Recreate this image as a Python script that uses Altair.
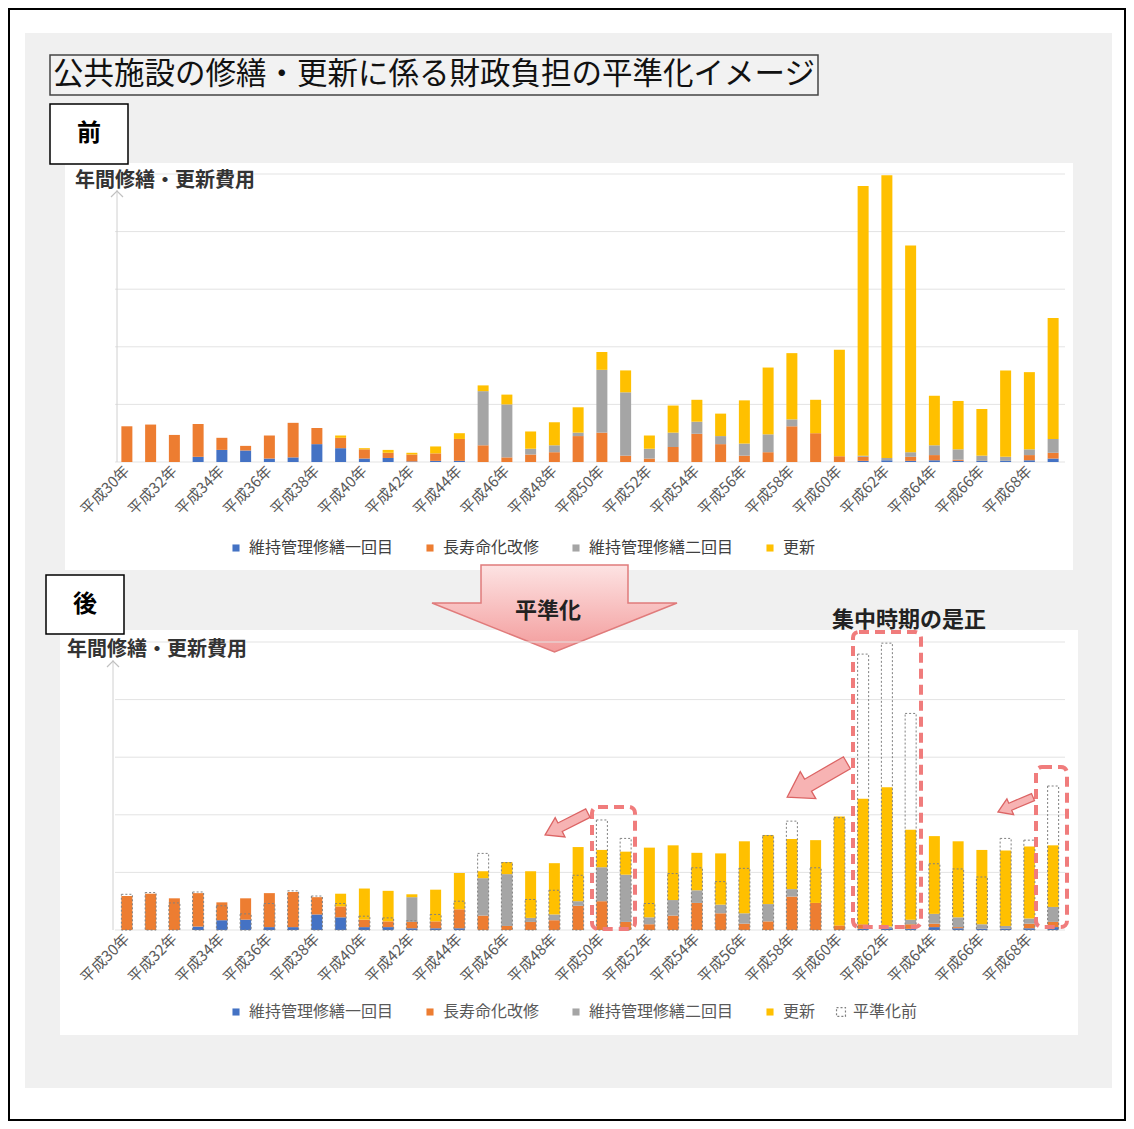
import altair as alt
import pandas as pd

# ---------------- data ----------------
years = [f"平成{n}年" for n in range(30, 70)]
tick_labels = years[::2]
categories = ["維持管理修繕一回目", "長寿命化改修", "維持管理修繕二回目", "更新"]
cat_colors = ["#4472C4", "#ED7D31", "#A5A5A5", "#FFC000"]
grid_values = [0, 1, 2, 3, 4, 5]

# 平準化前 (before)
before_blue = [0, 0, 0, 0.09, 0.21, 0.20, 0.06, 0.08, 0.31, 0.24,
               0.06, 0.07, 0.01, 0.02, 0.02, 0, 0, 0, 0, 0,
               0, 0, 0, 0, 0, 0, 0, 0, 0, 0,
               0, 0.02, 0.03, 0.02, 0.03, 0.02, 0.02, 0.02, 0.03, 0.06]
before_orange = [0.62, 0.65, 0.47, 0.57, 0.21, 0.08, 0.40, 0.60, 0.28, 0.18,
                 0.16, 0.09, 0.12, 0.13, 0.38, 0.29, 0.08, 0.13, 0.17, 0.45,
                 0.51, 0.11, 0.06, 0.26, 0.49, 0.31, 0.11, 0.17, 0.62, 0.50,
                 0.10, 0.07, 0, 0.07, 0.09, 0.02, 0, 0, 0.09, 0.10]
before_gray = [0, 0, 0, 0, 0, 0, 0, 0, 0, 0,
               0, 0, 0, 0, 0, 0.94, 0.92, 0.10, 0.12, 0.06,
               1.09, 1.10, 0.17, 0.25, 0.21, 0.14, 0.21, 0.31, 0.12, 0,
               0, 0.02, 0.04, 0.08, 0.17, 0.18, 0.09, 0.07, 0.10, 0.24]
before_yellow = [0, 0, 0, 0, 0, 0, 0, 0, 0, 0.04,
                 0.02, 0.05, 0.03, 0.12, 0.10, 0.10, 0.17, 0.30, 0.40, 0.44,
                 0.31, 0.38, 0.23, 0.47, 0.38, 0.39, 0.75, 1.16, 1.15, 0.58,
                 1.85, 4.68, 4.91, 3.59, 0.86, 0.84, 0.81, 1.50, 1.34, 2.10]

# 平準化後 (after)
after_blue = [0, 0, 0, 0.06, 0.17, 0.18, 0.05, 0.05, 0.27, 0.22,
              0.05, 0.05, 0.03, 0.03, 0.03, 0, 0, 0, 0, 0,
              0, 0, 0, 0, 0, 0, 0, 0, 0, 0,
              0, 0.02, 0.03, 0.02, 0.05, 0.03, 0.02, 0.02, 0.03, 0.05]
after_orange = [0.59, 0.63, 0.55, 0.58, 0.31, 0.37, 0.59, 0.61, 0.30, 0.19,
                0.13, 0.10, 0.11, 0.12, 0.33, 0.25, 0.07, 0.14, 0.17, 0.42,
                0.50, 0.14, 0.10, 0.25, 0.47, 0.29, 0.11, 0.15, 0.58, 0.47,
                0.08, 0.08, 0, 0.08, 0.06, 0.02, 0, 0, 0.08, 0.09]
after_gray = [0, 0, 0, 0, 0, 0, 0, 0, 0, 0,
              0, 0, 0.43, 0, 0, 0.65, 0.90, 0.07, 0.10, 0.08,
              0.59, 0.82, 0.12, 0.27, 0.22, 0.15, 0.18, 0.30, 0.13, 0,
              0, 0, 0.03, 0.08, 0.17, 0.17, 0.08, 0.05, 0.09, 0.26]
after_yellow = [0, 0, 0, 0, 0, 0, 0, 0, 0, 0.22,
                0.54, 0.53, 0.05, 0.55, 0.63, 0.12, 0.21, 0.81, 0.89, 0.94,
                0.30, 0.40, 1.21, 0.95, 0.65, 0.89, 1.25, 1.20, 0.87, 1.09,
                1.89, 2.18, 2.42, 1.56, 1.35, 1.32, 1.29, 1.31, 1.25, 1.07]

outline_label = "平準化前"
main_title = "公共施設の修繕・更新に係る財政負担の平準化イメージ"
y_title = "年間修繕・更新費用"


def stack_df(series):
    rows = []
    for i, yr in enumerate(years):
        for k, cat in enumerate(categories):
            rows.append({"year": yr, "cat": cat, "ord": k, "value": series[k][i]})
    return pd.DataFrame(rows)


before_df = stack_df([before_blue, before_orange, before_gray, before_yellow])
after_df = stack_df([after_blue, after_orange, after_gray, after_yellow])
before_total = [round(a + b + c + d, 2) for a, b, c, d in
                zip(before_blue, before_orange, before_gray, before_yellow)]
outline_df = pd.DataFrame({"year": years, "total": before_total,
                           "lab": [outline_label] * len(years)})

# ---------------- helpers ----------------
W, H = 950, 288
ONE = pd.DataFrame({"d": [0]})
FONT = "Noto Sans CJK JP"


def rect(x, x2, y, y2, **kw):
    return alt.Chart(ONE).mark_rect(**kw).encode(
        x=alt.value(x), x2=alt.value(x2), y=alt.value(y), y2=alt.value(y2))


def text(s, x, y, **kw):
    return alt.Chart(ONE).mark_text(text=s, **kw).encode(x=alt.value(x), y=alt.value(y))


def symbol(shape, x, y, size, angle=0, **kw):
    return alt.Chart(ONE).mark_point(shape=shape, size=size, angle=angle, opacity=1, **kw).encode(
        x=alt.value(x), y=alt.value(y))


x_axis = alt.Axis(values=tick_labels, labelAngle=-45, labelAlign="right", labelBaseline="middle",
                  labelFontSize=15, labelColor="#595959", labelPadding=6, ticks=False,
                  domain=False, grid=False, title=None, zindex=1, labelOverlap=False)
x_scale = alt.Scale(domain=years, paddingInner=0.5, paddingOuter=0.25)
y_scale = alt.Scale(domain=[0, 5], nice=False, zero=True)


def grid_layer():
    return alt.Chart(pd.DataFrame({"g": grid_values})).mark_rule(color="#e3e3e3", strokeWidth=1).encode(
        y=alt.Y("g:Q", scale=y_scale, axis=None), x=alt.value(0), x2=alt.value(W))


def axis_arrow(xpos, ytop):
    line = alt.Chart(ONE).mark_rule(color="#d0d0d0", strokeWidth=1).encode(
        x=alt.value(xpos), y=alt.value(ytop), y2=alt.value(H))
    head = symbol("M-1,0.5L0,-0.5L1,0.5", xpos, ytop + 4, 144, filled=False,
                  stroke="#c0c0c0", strokeWidth=1.2)
    return [line, head]


def bars(df, legend_y, label_color):
    return alt.Chart(df).mark_bar(size=11).encode(
        x=alt.X("year:N", scale=x_scale, axis=x_axis),
        y=alt.Y("value:Q", stack="zero", scale=y_scale, axis=None),
        color=alt.Color("cat:N", scale=alt.Scale(domain=categories, range=cat_colors),
                        legend=alt.Legend(orient="none", legendX=113, legendY=legend_y,
                                          direction="horizontal", title=None, labelFontSize=16,
                                          labelColor=label_color, symbolType="square",
                                          symbolSize=50, labelOffset=5, columnPadding=28,
                                          labelFont=FONT)),
        order=alt.Order("ord:Q", sort="ascending"),
    )


left_arrow = "M-1,0L-0.3,-0.45L-0.3,-0.2L1,-0.2L1,0.2L-0.3,0.2L-0.3,0.45Z"
down_arrow = "M-0.6,-0.355L0.6,-0.355L0.6,-0.045L1,-0.045L0,0.355L-1,-0.045L-0.6,-0.045Z"
pink_grad = alt.Gradient(gradient="linear",
                         stops=[alt.GradientStop(color="#fde3e3", offset=0),
                                alt.GradientStop(color="#f39b9b", offset=1)],
                         x1=0, x2=0, y1=0, y2=1)

# ---------------- top chart (前) ----------------
top_layers = [
    rect(-106, 1010, -165, 946, fill="white", stroke="black", strokeWidth=2),
    rect(-90, 997, -141, 914, fill="#f0f0f0"),
    rect(-65, 703, -119, -79, fill="#f2f2f2", stroke="#444444", strokeWidth=1.5),
    text(main_title, -62, -99, align="left", baseline="middle", fontSize=30.5, color="#111111"),
    rect(-50, 958, -11, 396, fill="white"),
    rect(-65, 13, -70, -10, fill="white", stroke="black", strokeWidth=1.5),
    text("前", -26, -40, align="center", baseline="middle", fontSize=24, fontWeight="bold", color="black"),
    grid_layer(),
] + axis_arrow(2, 16) + [
    text(y_title, -40, 7, align="left", baseline="middle", fontSize=20, fontWeight="bold", color="#333333"),
    bars(before_df, 366, "#404040"),
]
top = alt.layer(*top_layers).properties(width=W, height=H)

# ---------------- bottom chart (後) ----------------
outline = alt.Chart(outline_df).mark_bar(size=11, fill="transparent", strokeDash=[2, 2], strokeWidth=1).encode(
    x=alt.X("year:N", scale=x_scale, axis=x_axis),
    y=alt.Y("total:Q", scale=y_scale, axis=None),
    stroke=alt.Stroke("lab:N", scale=alt.Scale(domain=[outline_label], range=["#808080"]),
                      legend=alt.Legend(orient="none", legendX=718, legendY=362, title=None,
                                        symbolType="square", symbolDash=[2, 2],
                                        symbolFillColor="transparent", symbolStrokeColor="#808080",
                                        symbolStrokeWidth=1.2, symbolSize=80,
                                        labelFontSize=16, labelColor="#595959", labelOffset=4,
                                        labelFont=FONT)),
)

red = dict(fill="transparent", stroke="#F07C7C", strokeWidth=4, strokeDash=[10, 6], cornerRadius=6)
arrow_style = dict(filled=True, fill="#f7b3b3", stroke="#dc6464", strokeWidth=1.3)

bottom_layers = [
    rect(-55, 963, -12, 393, fill="white"),
    rect(-69, 9, -67, -8, fill="white", stroke="black", strokeWidth=1.5),
    text("後", -30, -37, align="center", baseline="middle", fontSize=24, fontWeight="bold", color="black"),
    symbol(down_arrow, 439.5, -33.5, 60025, filled=True, fill=pink_grad, stroke="#e07b7b", strokeWidth=1.5),
    text("平準化", 433, -31, align="center", baseline="middle", fontSize=22, fontWeight="bold", color="#222222"),
    grid_layer(),
] + axis_arrow(-2, 18) + [
    text(y_title, -48, 8, align="left", baseline="middle", fontSize=20, fontWeight="bold", color="#333333"),
    bars(after_df, 362, "#595959"),
    outline,
    rect(477, 520, 165, 287, **red),
    rect(738, 806, -10, 285, **red),
    rect(921, 952, 125, 285, **red),
    symbol(left_arrow, 451.5, 182, 48 * 48, angle=333, **arrow_style),
    symbol(left_arrow, 702, 138, 69 * 69, angle=330, **arrow_style),
    symbol(left_arrow, 900.5, 162.5, 38 * 38, angle=337, **arrow_style),
    text("集中時期の是正", 794, -22, align="center", baseline="middle", fontSize=22, fontWeight="bold", color="#222222"),
]
bottom = alt.layer(*bottom_layers).properties(width=W, height=H)

chart = (
    alt.vconcat(top, bottom, spacing=180, bounds="flush", padding=0)
    .resolve_scale(color="independent", stroke="independent")
    .resolve_legend(color="independent", stroke="independent")
    .configure(font=FONT, background="white")
    .configure_view(stroke=None)
)

chart.save("out.html", embed_options={"renderer": "svg", "actions": False})
